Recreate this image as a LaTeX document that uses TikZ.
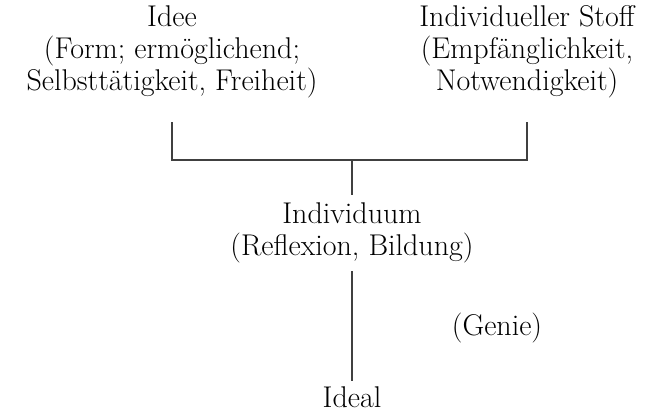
\documentclass[tikz,border=0pt]{standalone}
\usetikzlibrary{positioning}
\begin{document}
\begin{tikzpicture}[x=0.5pt,y=-0.5pt]
		\tikzset{term/.style = {align=center,inner sep=0pt,outer sep=4pt,font=\fontsize{15}{16}\selectfont}}
		\tikzset{upper/.style = {term,outer sep=12pt}}
		\tikzset{link/.style = {draw=black!75,line width=0.6pt}}
		\useasboundingbox (0,0) rectangle (656,414);
		% terms
		\node[upper] (idee) at (172,52) {Idee\\(Form; erm\"oglichend;\\Selbstt\"atigkeit, Freiheit)};
		\node[upper] (stoff) at (527,52) {Individueller Stoff\\(Empf\"anglichkeit,\\Notwendigkeit)};
		\node[term] (indiv) at (352,233) {Individuum\\(Reflexion, Bildung)};
		\node[term] (genie) at (497,328) {(Genie)};
		\node[term, outer sep=2.5pt] (ideal) at (352,397) {Ideal};
		\coordinate (join) at (352,160);
		% lines
		\draw[link] (idee) |- (join) -| (stoff);
		\draw[link] (join) -- (indiv);
		\draw[link] (indiv) -- (ideal);
\end{tikzpicture}
\end{document}
